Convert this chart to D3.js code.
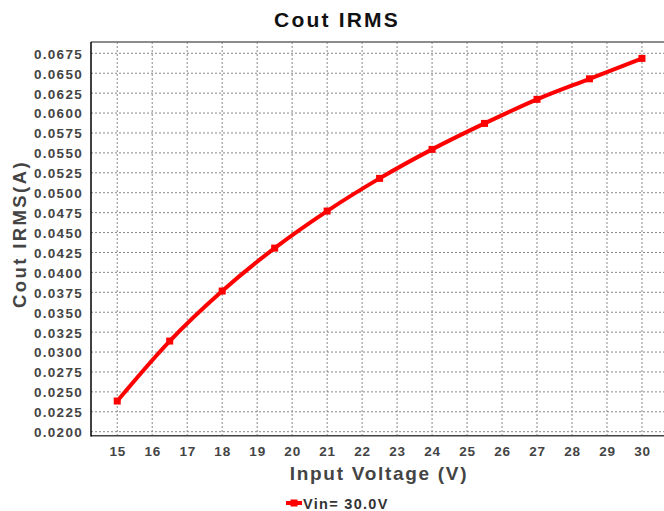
<!DOCTYPE html>
<html>
<head>
<meta charset="utf-8">
<script src="https://cdn.jsdelivr.net/npm/d3@7"></script>
<style>
  html, body { margin: 0; padding: 0; background: #fff; }
  svg { display: block; }
  text { font-family: "Liberation Sans", Arial, Helvetica, sans-serif; font-weight: bold; }
</style>
</head>
<body>
<svg id="chart" width="664" height="511"></svg>
<script>
// ---- data ----
const inputVoltage = [15, 16.5, 18, 19.5, 21, 22.5, 24, 25.5, 27, 28.5, 30];
const coutIrms = [0.02385, 0.03138, 0.03766, 0.04305, 0.0477, 0.0518, 0.05544, 0.0587, 0.06172, 0.0643, 0.06686];
const xTicks = [15, 16, 17, 18, 19, 20, 21, 22, 23, 24, 25, 26, 27, 28, 29, 30];
const yTicks = [0.0200, 0.0225, 0.0250, 0.0275, 0.0300, 0.0325, 0.0350, 0.0375, 0.0400, 0.0425, 0.0450, 0.0475, 0.0500, 0.0525, 0.0550, 0.0575, 0.0600, 0.0625, 0.0650, 0.0675];
const seriesName = "Vin= 30.0V";
const titleText = "Cout IRMS";
const xLabel = "Input Voltage (V)";
const yLabel = "Cout IRMS(A)";

// ---- layout ----
const svg = d3.select("#chart");
const pLeft = 91, pTop = 42, pRight = 664, pBottom = 435.7;

const x = d3.scaleLinear().domain([14.25, 30.63]).range([pLeft, pRight]);
const y = d3.scaleLinear().domain([0.0195, 0.06892]).range([pBottom, pTop]);

// grid
const grid = svg.append("g");
grid.selectAll("line.v").data(xTicks).enter().append("line")
  .attr("x1", d => x(d)).attr("x2", d => x(d))
  .attr("y1", pTop).attr("y2", pBottom)
  .attr("stroke", "#888").attr("stroke-width", 1).attr("stroke-dasharray", "2,2");
grid.selectAll("line.h").data(yTicks).enter().append("line")
  .attr("y1", d => y(d)).attr("y2", d => y(d))
  .attr("x1", pLeft).attr("x2", pRight)
  .attr("stroke", "#888").attr("stroke-width", 1).attr("stroke-dasharray", "2,2");

// frame lines
svg.append("line").attr("x1", pLeft).attr("x2", pRight).attr("y1", pTop).attr("y2", pTop)
  .attr("stroke", "#666").attr("stroke-width", 1.5);
svg.append("line").attr("x1", pLeft).attr("x2", pRight).attr("y1", pBottom).attr("y2", pBottom)
  .attr("stroke", "#444").attr("stroke-width", 1.5);
svg.append("line").attr("x1", pLeft).attr("x2", pLeft).attr("y1", pTop).attr("y2", pBottom + 0.75)
  .attr("stroke", "#000").attr("stroke-width", 1.5);

// axes (labels only)
const yAxis = d3.axisLeft(y).tickValues(yTicks).tickFormat(d3.format(".4f")).tickSize(0).tickPadding(8);
const gy = svg.append("g").attr("transform", `translate(${pLeft},0)`).call(yAxis);
gy.select(".domain").remove();
gy.selectAll("text").attr("fill", "#444").style("font-size", "13.5px").style("letter-spacing", "1.3px")
  .attr("dy", "0.36em");

const xAxis = d3.axisBottom(x).tickValues(xTicks).tickFormat(d3.format("d")).tickSize(0).tickPadding(11);
const gx = svg.append("g").attr("transform", `translate(0,${pBottom})`).call(xAxis);
gx.select(".domain").remove();
gx.selectAll("text").attr("fill", "#444").style("font-size", "13.5px").style("letter-spacing", "0.8px");

// line
const line = d3.line().x((d, i) => x(inputVoltage[i])).y(d => y(d)).curve(d3.curveMonotoneX);
svg.append("path").datum(coutIrms).attr("d", line)
  .attr("fill", "none").attr("stroke", "#ff0000").attr("stroke-width", 4).attr("stroke-linejoin", "round");
svg.selectAll("rect.m").data(coutIrms).enter().append("rect")
  .attr("x", (d, i) => x(inputVoltage[i]) - 3.5).attr("y", d => y(d) - 3.5)
  .attr("width", 7).attr("height", 7).attr("fill", "#ff0000");

// titles
svg.append("text").attr("x", 337).attr("y", 27).attr("text-anchor", "middle")
  .attr("fill", "#111").style("font-size", "21px").style("letter-spacing", "2.2px").text(titleText);
svg.append("text").attr("x", 379).attr("y", 480).attr("text-anchor", "middle")
  .attr("fill", "#444").style("font-size", "19px").style("letter-spacing", "1.7px").text(xLabel);
svg.append("text").attr("transform", "translate(26,234) rotate(-90)").attr("text-anchor", "middle")
  .attr("fill", "#444").style("font-size", "18.5px").style("letter-spacing", "2.4px").text(yLabel);

// legend
const lg = svg.append("g");
lg.append("line").attr("x1", 286).attr("x2", 302).attr("y1", 503).attr("y2", 503)
  .attr("stroke", "#ff0000").attr("stroke-width", 4);
lg.append("rect").attr("x", 290.5).attr("y", 499.5).attr("width", 7).attr("height", 7).attr("fill", "#ff0000");
lg.append("text").attr("x", 303).attr("y", 508.5).attr("fill", "#333")
  .style("font-size", "14.5px").style("letter-spacing", "1.3px").text(seriesName);
</script>
</body>
</html>
